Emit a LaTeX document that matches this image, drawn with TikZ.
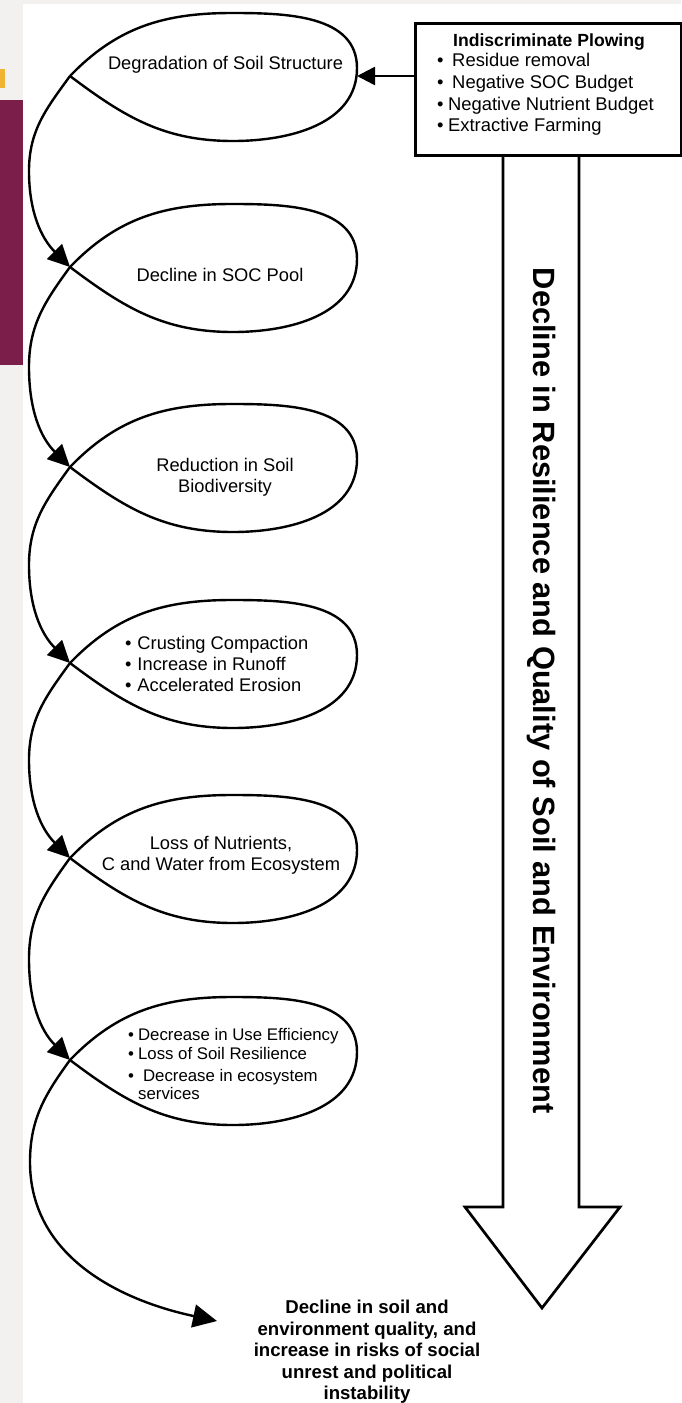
\documentclass[tikz,border=0pt]{standalone}
\usepackage{fontspec}
\setmainfont{Liberation Sans}
\usetikzlibrary{arrows.meta}
\definecolor{bggray}{RGB}{242,241,239}
\definecolor{maroonbar}{RGB}{123,31,74}
\definecolor{orangemark}{RGB}{240,180,50}
\tikzset{
  curveline/.style={line width=2.4pt, black},
  loopline/.style={curveline},
  arcarrow/.style={curveline, -{Triangle[length=22pt,width=21pt]}},
  endarrow/.style={curveline, -{Triangle[length=24pt,width=23pt]}},
  boxarrow/.style={line width=2.6pt, -{Triangle[length=18pt,width=18pt]}},
  plowbox/.style={draw, line width=2.7pt, minimum width=266pt, minimum height=132pt, inner sep=0pt, anchor=north west},
  bigarrow/.style={line width=2.7pt, line join=miter},
  etext/.style={inner sep=0pt, font=\fontsize{18.3}{21}\selectfont},
  esmall/.style={inner sep=0pt, font=\fontsize{16.8}{18.5}\selectfont},
  plowtitle/.style={inner sep=0pt, font=\bfseries\fontsize{17.6}{21}\selectfont},
  plowlist/.style={inner sep=0pt, font=\fontsize{18.4}{21.7}\selectfont, align=left, anchor=west},
  vtext/.style={inner sep=0pt, rotate=-90, font=\bfseries\fontsize{30.8}{36}\selectfont},
  outtext/.style={inner sep=0pt, align=center, font=\bfseries\fontsize{18.6}{21.5}\selectfont}
}
\begin{document}
\begin{tikzpicture}[x=1pt,y=1pt]
\useasboundingbox (0,0) rectangle (681,-1403);
% background
\fill[bggray] (0,0) rectangle (681,-1403);
\fill[white] (23,-4) rectangle (681,-1403);
\fill[maroonbar] (0,-100) rectangle (23,-365);
\fill[orangemark] (0,-69) rectangle (5,-88);

% crossing points and loops
\foreach \i/\y in {1/76,2/267,3/467,4/663,5/858,6/1060}{
  \coordinate (c\i) at (70,-\y);
  \draw[loopline] (c\i) to[out=-37,in=180] (233,-\y-65)
     to[out=0,in=-90] (357,-\y+8)
     to[out=90,in=0] (232,-\y+63)
     to[out=180,in=46] (c\i);
}
% left arcs with arrows
\foreach \i/\j/\m in {1/2/171,2/3/367,3/4/565,4/5/760,5/6/959}{
  \draw[arcarrow] (c\i) to[out=-126,in=90] (29,-\m) to[out=-90,in=135] (c\j);
}
\coordinate (endpt) at (217,-1321);
\draw[endarrow] (c6) to[out=-126,in=90] (30,-1162) to[out=-90,in=168] (endpt);

% ellipse texts
\node[etext] (t1) at (225.5,-65) {Degradation of Soil Structure};
\node[etext] (t2) at (220,-275) {Decline in SOC Pool};
\node[etext, align=center] (t3) at (225,-477) {Reduction in Soil\\Biodiversity};
\node[etext, align=left, anchor=west] (t4) at (125,-664) {•\hspace{5.9pt}Crusting Compaction\\•\hspace{5.9pt}Increase in Runoff\\•\hspace{5.9pt}Accelerated Erosion};
\node[etext, align=center] (t5) at (221,-855.5) {Loss of Nutrients,\\C and Water from Ecosystem};
\node[esmall, align=left, anchor=west] (t6) at (128,-1064) {•\hspace{4pt}Decrease in Use Efficiency\\•\hspace{4pt}Loss of Soil Resilience\\[3.5pt]•\hspace{9pt}Decrease in ecosystem\\\hspace*{10pt}services};

% plowing box
\node[plowbox] (plow) at (414,-22) {};
\node[plowtitle] (ptitle) at (549,-42) {Indiscriminate Plowing};
\node[plowlist] (plist) at (437,-94.5) {•\hspace{8.6pt}Residue removal\\•\hspace{8.6pt}Negative SOC Budget\\•\hspace{4.5pt}Negative Nutrient Budget\\•\hspace{4.5pt}Extractive Farming};
\coordinate (r1) at (357,-76);
\draw[boxarrow] (plow.west |- r1) -- (r1);

% big down arrow
\draw[bigarrow] (503,-154) -- (503,-1207) -- (465,-1207) -- (542,-1308) -- (620,-1207) -- (579,-1207) -- (579,-154);
\node[vtext] (vt) at (541,-690.5) {Decline in Resilience and Quality of Soil and Environment};

% outcome text
\node[outtext] (out) at (367,-1352) {Decline in soil and\\environment quality, and\\increase in risks of social\\unrest and political\\instability};
\end{tikzpicture}
\end{document}
